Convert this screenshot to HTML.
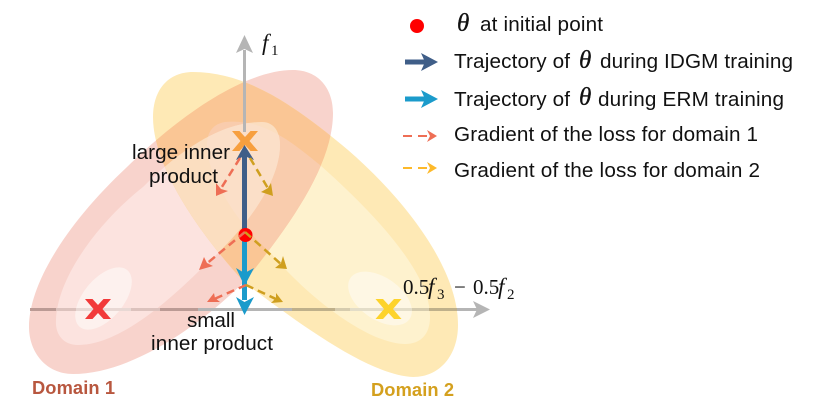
<!DOCTYPE html>
<html><head><meta charset="utf-8"><style>
html,body{margin:0;padding:0;background:#fff;width:816px;height:418px;overflow:hidden}
svg{display:block}
text{font-family:"Liberation Sans",sans-serif;fill:#111}
.m{font-family:"Liberation Serif",serif;font-size:21px}
.i{font-style:italic}
.s{font-size:15px}
.th{font-size:25px;font-style:italic;stroke:#111;stroke-width:.3}
.t{font-size:20.7px}
.l{font-size:20.7px}
</style></head><body>
<svg width="816" height="418" viewBox="0 0 816 418" xmlns="http://www.w3.org/2000/svg">
<defs>
<path id="ro" d="M293,70C318,70 333,88 333,113C333,165 290,225 245,281C190,335 125,374 73,374C46,374 29,352 29,327C29,285 65,225 127,167C180,115 245,70 293,70Z"/>
<path id="rm" d="M262,122C274,122 280,132 280,145C280,185 240,235 203,267C160,310 115,345 78,345C62,345 55,333 56,320C57,280 95,225 143,187C185,145 225,122 262,122Z"/>
<path id="yo" d="M193,72C250,72 300,110 348,150C400,195 458,265 458,325C458,355 440,377 413,377C370,375 305,328 245,283C205,240 153,170 153,117C153,90 168,72 193,72Z"/>
<path id="ym" d="M225,122C265,118 295,145 320,165C365,205 431,270 430,317C430,335 420,344 405,344C370,344 310,300 270,252C245,232 207,180 207,145C207,132 213,124 225,122Z"/>
<path id="x" d="M-13,-10H-5.500L0,-4L5.500,-10H13L4.500,0L13,10H5.500L0,4L-5.500,10H-13L-4.500,0Z"/>
<clipPath id="cro"><use href="#ro"/></clipPath>
<clipPath id="crm"><use href="#rm"/></clipPath>
</defs>
<use href="#ro" fill="#f8d3cc"/>
<use href="#rm" fill="#fce3df"/>
<ellipse cx="103.500" cy="298.500" rx="37" ry="20" transform="rotate(-50 103.500 298.500)" fill="#fdf1ee"/>
<use href="#yo" fill="#fee9b5"/>
<use href="#ym" fill="#fef2ce"/>
<ellipse cx="380" cy="298.500" rx="36" ry="21" transform="rotate(35 380 298.500)" fill="#fef7e4"/>
<g clip-path="url(#cro)">
<use href="#yo" fill="#fac695"/>
<use href="#ym" fill="#f9ccad"/>
</g>
<g clip-path="url(#crm)">
<use href="#yo" fill="#fbdec0"/>
<use href="#ym" fill="#fbdfc8"/>
</g>
<!-- axes -->
<g stroke-width="3" fill="none">
<path stroke="#bb9a94" d="M30,309.500H56"/>
<path stroke="#dcc2bd" d="M56,309.500H76"/>
<path stroke="#e8d8d4" d="M76,309.500H131"/>
<path stroke="#dcc2bd" d="M131,309.500H160"/>
<path stroke="#bb9a94" d="M160,309.500H198"/>
<path stroke="#b5b5b5" d="M198,309.500H292"/>
<path stroke="#bfb08a" d="M292,309.500H335"/>
<path stroke="#d6ccae" d="M335,309.500H350"/>
<path stroke="#e3ddc8" d="M350,309.500H412"/>
<path stroke="#d6ccae" d="M412,309.500H429"/>
<path stroke="#bfb08a" d="M429,309.500H457"/>
<path stroke="#b5b5b5" d="M457,309.500H477"/>
<path stroke="#b5b5b5" d="M244.500,132V50"/>
</g>
<path fill="#b5b5b5" d="M236,53L244.500,35L253,53L244.500,49Z"/>
<path fill="#b5b5b5" d="M473,301L490,309.500L473,318L477,309.500Z"/>
<!-- crosses -->
<use href="#x" transform="translate(245 141)" fill="#f79f3e"/>
<use href="#x" transform="translate(98 309)" fill="#f23a3a"/>
<use href="#x" transform="translate(388.500 309)" fill="#fdd32b"/>
<!-- trajectories -->
<path stroke="#1b9bcb" stroke-width="5" d="M244.500,238V300" fill="none"/>
<path fill="#1b9bcb" d="M236,268L244.500,273L254,268L244.500,286Z"/>
<path fill="#1b9bcb" d="M236,297L244.500,302L254,297L244.500,315Z"/>
<path stroke="#3f5e88" stroke-width="5" d="M244.500,235V155" fill="none"/>
<path fill="#3f5e88" d="M236,160L244.500,145L254,160L244.500,156Z"/>
<circle cx="245.500" cy="235" r="7" fill="#f00"/>
<!-- gradients -->
<g fill="none" stroke-width="2.500" stroke-dasharray="8 5">
<path stroke="#ee6e55" d="M240,158L220,190"/>
<path stroke="#cf9f1f" d="M250,158L269,190"/>
<path stroke="#ee6e55" d="M245,232L205,265"/>
<path stroke="#cf9f1f" d="M245,232L282,265"/>
<path stroke="#ee6e55" d="M246,285L212,300"/>
<path stroke="#cf9f1f" d="M246,285L278,300"/>
</g>
<g fill="#ee6e55">
<path d="M216,196L216,183L221,189L228,191Z"/>
<path d="M199,270L204,257L207,263L213,266Z"/>
<path d="M207,302L214,293L215,298L220,302Z"/>
</g>
<g fill="#cf9f1f">
<path d="M273,196L261,192L268,188L271,183Z"/>
<path d="M287,269L275,268L281,263L283,256Z"/>
<path d="M283,302L271,303L276,298L276,293Z"/>
</g>
<!-- labels -->
<text class="l" x="132" y="159" textLength="98">large inner</text>
<text class="l" x="149" y="183" textLength="69">product</text>
<text class="l" x="187" y="327" textLength="48">small</text>
<text class="l" x="151" y="350" textLength="122">inner product</text>
<text x="32" y="394" font-size="18.300" font-weight="bold" textLength="83" style="fill:#b8573f">Domain 1</text>
<text x="371" y="396" font-size="18.300" font-weight="bold" textLength="83" style="fill:#d4a01e">Domain 2</text>
<!-- math -->
<text class="m i" x="262" y="50" style="font-size:23px">f</text><text class="m s" x="271" y="55">1</text>
<text class="m" x="403" y="294">0.5</text><text class="m i" x="428" y="294" style="font-size:23px">f</text><text class="m s" x="437" y="299">3</text>
<text class="m" x="454" y="294">−</text>
<text class="m" x="473" y="294">0.5</text><text class="m i" x="498" y="294" style="font-size:23px">f</text><text class="m s" x="507" y="299">2</text>
<!-- legend -->
<circle cx="417" cy="26" r="7" fill="#f00"/>
<text class="m th" x="457" y="31">θ</text>
<text class="t" x="480" y="31" textLength="123">at initial point</text>
<path stroke="#3f5e88" stroke-width="5" d="M405,62H428" fill="none"/>
<path fill="#3f5e88" d="M421,53L438,62L421,71L425,62Z"/>
<text class="t" x="454" y="68" textLength="116">Trajectory of</text>
<text class="m th" x="579" y="68">θ</text>
<text class="t" x="600" y="68" textLength="193">during IDGM training</text>
<path stroke="#1b9bcb" stroke-width="5" d="M405,99H428" fill="none"/>
<path fill="#1b9bcb" d="M421,90L438,99L421,108L425,99Z"/>
<text class="t" x="454" y="106" textLength="116">Trajectory of</text>
<text class="m th" x="579" y="105">θ</text>
<text class="t" x="598" y="106" textLength="186">during ERM training</text>
<path stroke="#ee6e55" stroke-width="2" stroke-dasharray="9 6" d="M403,136H430" fill="none"/>
<path fill="#ee6e55" d="M427,130L437,136L427,142L430,136Z"/>
<text class="t" x="454" y="141" textLength="304">Gradient of the loss for domain 1</text>
<path stroke="#fdb92a" stroke-width="2" stroke-dasharray="9 6" d="M403,168H430" fill="none"/>
<path fill="#fdb92a" d="M427,162L437,168L427,174L430,168Z"/>
<text class="t" x="454" y="177" textLength="306">Gradient of the loss for domain 2</text>
</svg>
</body></html>
